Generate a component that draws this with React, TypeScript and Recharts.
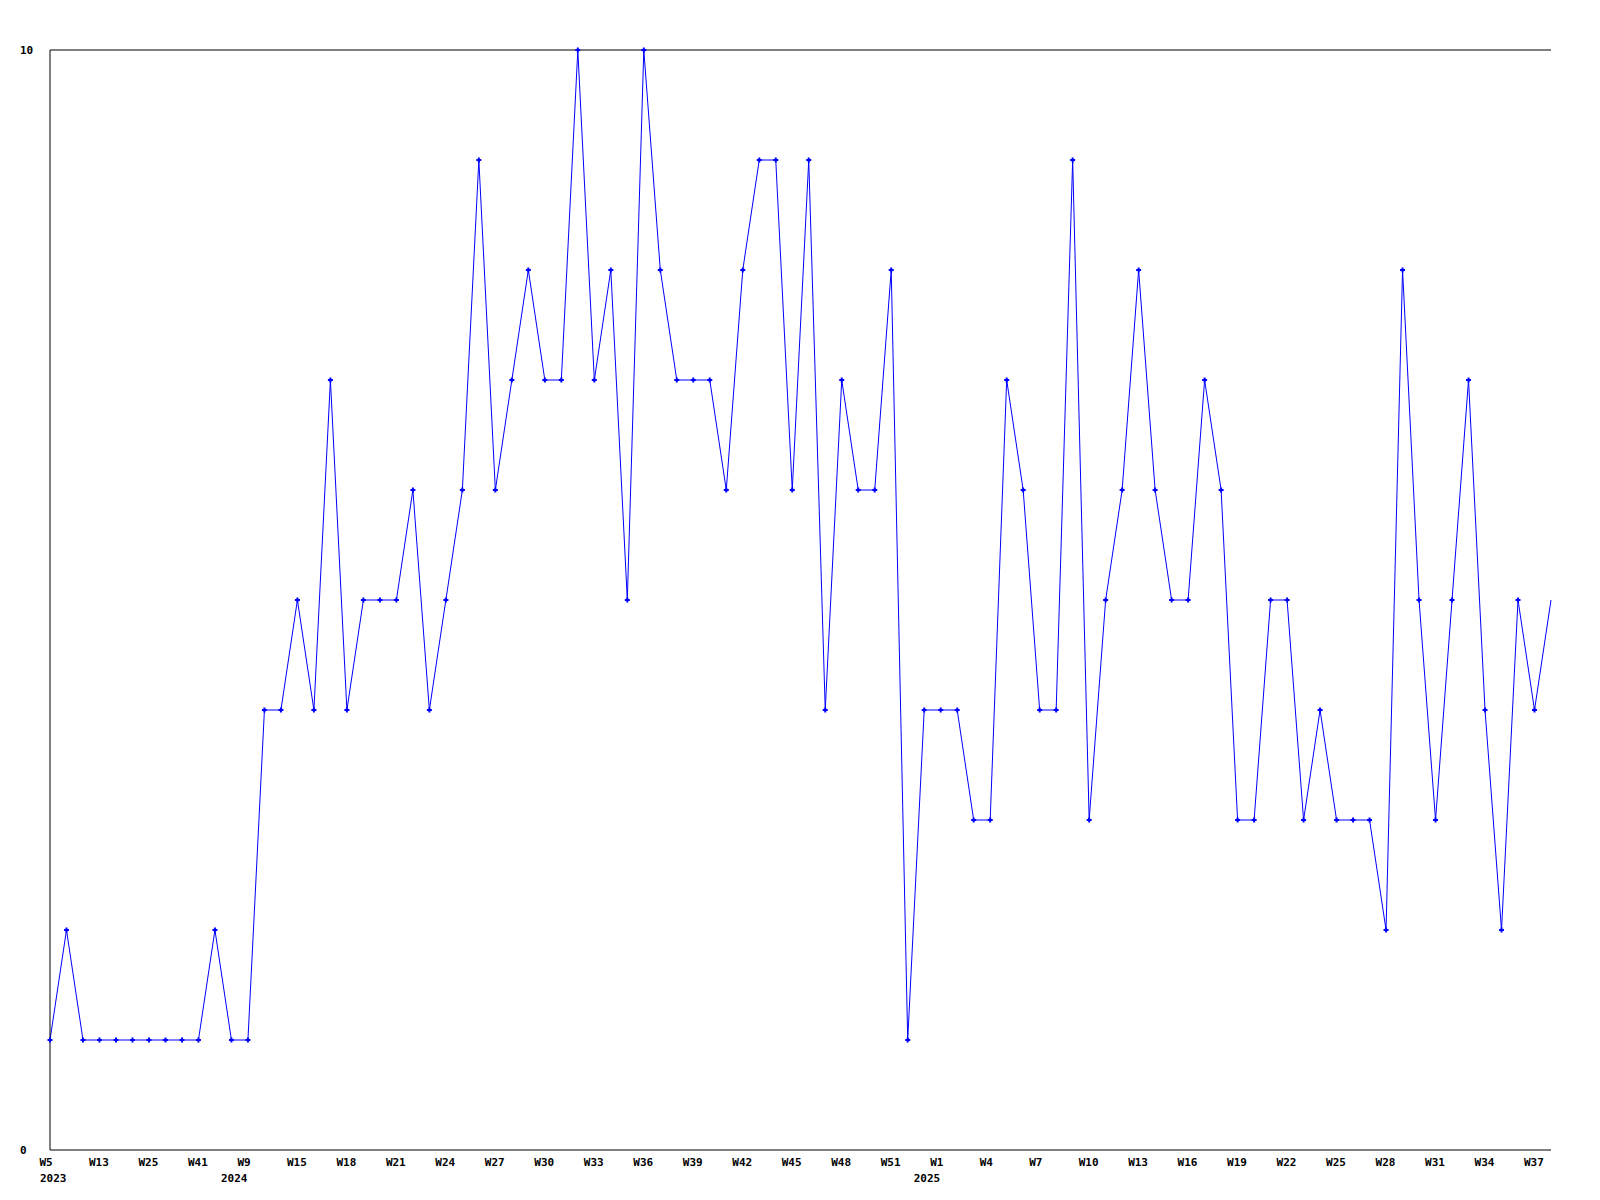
import React from "react";
import { LineChart, Line, XAxis, YAxis, ReferenceLine } from "recharts";

// week labels, one per point (only every third one is printed)
const weeks = [
  "W5", "W7", "W10", "W13", "W17", "W21", "W25", "W30", "W36", "W41", "W45", "W50",
  "W9", "W12", "W14", "W15", "W16", "W17", "W18", "W19", "W20", "W21", "W22", "W23",
  "W24", "W25", "W26", "W27", "W28", "W29", "W30", "W31", "W32", "W33", "W34", "W35",
  "W36", "W37", "W38", "W39", "W40", "W41", "W42", "W43", "W44", "W45", "W46", "W47",
  "W48", "W49", "W50", "W51", "W52", "W53",
  "W1", "W2", "W3", "W4", "W5", "W6", "W7", "W8", "W9", "W10", "W11", "W12",
  "W13", "W14", "W15", "W16", "W17", "W18", "W19", "W20", "W21", "W22", "W23", "W24",
  "W25", "W26", "W27", "W28", "W29", "W30", "W31", "W32", "W33", "W34", "W35", "W36",
  "W37", "W38",
];

// number of points in each year
const yearLabels = ["2023", "2024", "2025"];
const yearCounts = [12, 42, 38];

const values = [
  1, 2, 1, 1, 1, 1, 1, 1, 1, 1, 2, 1,
  1, 4, 4, 5, 4, 7, 4, 5, 5, 5, 6, 4,
  5, 6, 9, 6, 7, 8, 7, 7, 10, 7, 8, 5,
  10, 8, 7, 7, 7, 6, 8, 9, 9, 6, 9, 4,
  7, 6, 6, 8, 1, 4,
  4, 4, 3, 3, 7, 6, 4, 4, 9, 3, 5, 6,
  8, 6, 5, 5, 7, 6, 3, 3, 5, 5, 3, 4,
  3, 3, 3, 2, 8, 5, 3, 5, 7, 4, 2, 5,
  4, 5,
];

const yTicks = [0, 10];

// first point of each year gets the year label
const yearStart: Record<number, string> = {};
let acc = 0;
yearLabels.forEach((y, i) => {
  yearStart[acc] = y;
  acc += yearCounts[i];
});

const data = values.map((v, i) => ({ week: weeks[i], value: v }));

const FONT = "'DejaVu Sans Mono', monospace";

const XTick = (props: any) => {
  const { x, y, index, payload } = props;
  const i = payload?.index ?? index;
  if (i % 3 !== 0) return <g />;
  const year = yearStart[i];
  return (
    <g>
      <text
        x={x - 10.5}
        y={y + 4.5}
        textAnchor="start"
        dominantBaseline="central"
        fontFamily={FONT}
        fontWeight="bold"
        fontSize={11}
        fill="#000"
      >
        {payload.value}
      </text>
      {year && (
        <text
          x={i === 0 ? x - 10 : x - 27}
          y={y + 20}
          textAnchor="start"
          dominantBaseline="central"
          fontFamily={FONT}
          fontWeight="bold"
          fontSize={11}
          fill="#000"
        >
          {year}
        </text>
      )}
    </g>
  );
};

const YTick = (props: any) => {
  const { y, payload } = props;
  return (
    <text
      x={20}
      y={y + 0.5}
      textAnchor="start"
      dominantBaseline="central"
      fontFamily={FONT}
      fontWeight="bold"
      fontSize={11}
      fill="#000"
    >
      {payload.value}
    </text>
  );
};

// small "+" marker, the last point has none
const Dot = (props: any) => {
  const { cx, cy, index } = props;
  if (index === values.length - 1 || cx == null) return <g key={index} />;
  return (
    <path
      key={index}
      d={`M${cx - 2.5},${cy} L${cx + 2.5},${cy} M${cx},${cy - 2.5} L${cx},${cy + 2.5}`}
      stroke="#0000ff"
      strokeWidth={2}
      fill="none"
    />
  );
};

export default function App() {
  return (
    <div style={{ position: "absolute", left: 0, top: 0, width: 1600, height: 1200, background: "#fff" }}>
      <LineChart
        width={1600}
        height={1200}
        data={data}
        margin={{ top: 50, right: 49, bottom: 0, left: 20 }}
      >
        <XAxis
          dataKey="week"
          interval={0}
          height={50}
          axisLine={{ stroke: "#000", strokeWidth: 1 }}
          tickLine={false}
          tick={<XTick />}
        />
        <YAxis
          width={30}
          domain={[0, 10]}
          ticks={yTicks}
          axisLine={{ stroke: "#000", strokeWidth: 1 }}
          tickLine={false}
          tick={<YTick />}
        />
        <ReferenceLine y={10} stroke="#000" strokeWidth={1} />
        <Line
          type="linear"
          dataKey="value"
          stroke="#0000ff"
          strokeWidth={1}
          dot={<Dot />}
          activeDot={false}
          isAnimationActive={false}
        />
      </LineChart>
    </div>
  );
}
